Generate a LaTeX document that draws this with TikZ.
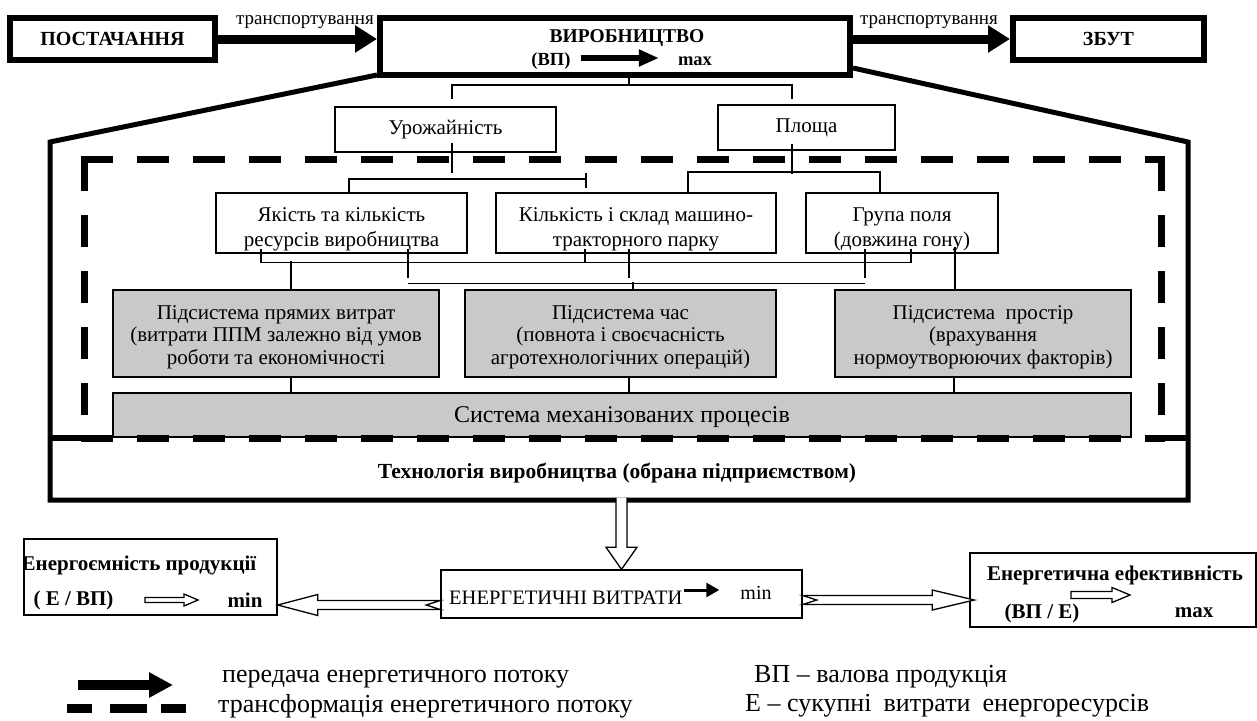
\documentclass[tikz,border=0pt]{standalone}
\usepackage{fontspec}
\setmainfont{Liberation Serif}
\usetikzlibrary{arrows.meta,calc}
\definecolor{boxgray}{RGB}{200,201,203}
\newcommand\fs[1]{\fontsize{#1}{#1}\selectfont}
% hollow arrows: tail, tip, shaft half, head half, head length, notch
\newcommand\HArrR[6]{\filldraw[hollow] let \p1=(#1), \p2=(#2) in
  (\x2,\y1) -- (\x2-#5,\y1+#4) -- (\x2-#5,\y1+#3) -- (\x1,\y1+#3) -- (\x1+#6,\y1)
  -- (\x1,\y1-#3) -- (\x2-#5,\y1-#3) -- (\x2-#5,\y1-#4) -- cycle;}
\newcommand\HArrL[6]{\filldraw[hollow] let \p1=(#1), \p2=(#2) in
  (\x2,\y1) -- (\x2+#5,\y1+#4) -- (\x2+#5,\y1+#3) -- (\x1,\y1+#3) -- (\x1-#6,\y1)
  -- (\x1,\y1-#3) -- (\x2+#5,\y1-#3) -- (\x2+#5,\y1-#4) -- cycle;}
\newcommand\HArrD[5]{\fill[white] let \p1=(#1), \p2=(#2) in
  (\x1,\y2) -- (\x1+#4,\y2+#5) -- (\x1+#3,\y2+#5) -- (\x1+#3,\y1) -- (\x1-#3,\y1)
  -- (\x1-#3,\y2+#5) -- (\x1-#4,\y2+#5) -- cycle;
  \draw[hollowline] let \p1=(#1), \p2=(#2) in
  (\x1+#3,\y1) -- (\x1+#3,\y2+#5) -- (\x1+#4,\y2+#5) -- (\x1,\y2) -- (\x1-#4,\y2+#5)
  -- (\x1-#3,\y2+#5) -- (\x1-#3,\y1);}
\begin{document}
\begin{tikzpicture}[x=1pt,y=-1pt,
  thickbox/.style={draw,line width=6pt,inner sep=0pt},
  thinbox/.style={draw,line width=1.4pt,inner sep=0pt,font=\fs{21}},
  greybox/.style={thinbox,fill=boxgray},
  txt/.style={inner sep=0pt,align=center,font=\fs{21}},
  btxt/.style={inner sep=0pt,align=center,font=\fs{21}\bfseries},
  ltxt/.style={inner sep=0pt,anchor=west,font=\fs{21}},
  conn/.style={line width=1.2pt},
  house/.style={line width=5pt,line join=miter},
  dashedge/.style={line width=7pt,dash pattern=on 32pt off 24pt},
  flow/.style={line width=9pt,-{Triangle[length=22pt,width=26pt]}},
  hollow/.style={draw,fill=white,line width=1.3pt,line join=miter},
  hollowline/.style={line width=1.3pt,line join=miter},
]
\useasboundingbox (0,0) rectangle (1257,720);

% ---------- top row ----------
\node[thickbox,minimum width=205pt,minimum height=42pt] (post) at (112.5,39) {\fs{20}\bfseries ПОСТАЧАННЯ};
\node[thickbox,minimum width=470pt,minimum height=57pt] (vir) at (615,46.5) {};
\node[btxt,font=\fs{19.5}\bfseries] (virt) at (627,38) {ВИРОБНИЦТВО};
\node[btxt,font=\fs{18.5}\bfseries] (vp) at (551,61) {(ВП)};
\node[btxt,font=\fs{18.5}\bfseries] (vmax) at (695,61) {max};
\draw[line width=6pt,-{Triangle[length=20pt,width=16pt]}] ($(vp.east)+(10,-3)$) -- ($(vmax.west)+(-19,-3)$);
\node[thickbox,minimum width=191pt,minimum height=42pt] (zbut) at (1108.5,39) {\fs{20}\bfseries ЗБУТ};

\draw[flow] (post.east) -- (post.east -| vir.west);
\draw[flow] (vir.east |- zbut.west) -- (zbut.west);
\node[inner sep=0pt,font=\fs{19}] (tl1) at (305,22) {транспортування};
\node[inner sep=0pt,font=\fs{19}] (tl2) at (929,22) {транспортування};

% ---------- house outline ----------
\coordinate (hl) at (50,142);
\coordinate (hr) at (1188,142);
\coordinate (hbl) at (50,500);
\coordinate (hbr) at (1188,500);
\draw[house] ([yshift=3pt]vir.south west) -- (hl) -- (hbl) -- (hbr) -- (hr) -- ([yshift=10pt]vir.south east);

% ---------- boxes ----------
\node[thinbox,minimum width=221pt,minimum height=45pt] (uro) at (445.5,129.5) {Урожайність};
\node[thinbox,minimum width=177pt,minimum height=45pt] (plo) at (806.5,127.5) {Площа};

\node[thinbox,minimum width=251pt,minimum height=60pt] (yak) at (341.5,223) {};
\node[txt,font=\fontsize{21}{25}\selectfont] (yakt) at (341.5,229) {Якість та кількість\\ресурсів виробництва};
\node[thinbox,minimum width=280pt,minimum height=60pt] (kil) at (636,223) {};
\node[txt,font=\fontsize{21}{25}\selectfont] (kilt) at (636,229) {Кількість і склад машино-\\тракторного парку};
\node[thinbox,minimum width=192pt,minimum height=60pt] (gru) at (902,223) {};
\node[txt,font=\fontsize{21}{25}\selectfont] (grut) at (902,229) {Група поля\\(довжина гону)};

\node[greybox,minimum width=326pt,minimum height=87pt] (g1) at (276,333.5) {};
\node[txt,font=\fontsize{21}{22.5}\selectfont] (g1t) at (276,337) {Підсистема прямих витрат\\(витрати ППМ залежно від умов\\роботи та економічності};
\node[greybox,minimum width=311pt,minimum height=87pt] (g2) at (620.5,333.5) {};
\node[txt,font=\fontsize{21}{22.5}\selectfont] (g2t) at (620.5,337) {Підсистема час\\(повнота і своєчасність\\агротехнологічних операцій)};
\node[greybox,minimum width=296pt,minimum height=87pt] (g3) at (983,333.5) {};
\node[txt,font=\fontsize{21}{22.5}\selectfont] (g3t) at (983,337) {Підсистема\ \ простір\\(врахування\\нормоутворюючих факторів)};

\node[greybox,minimum width=1018pt,minimum height=44pt] (sys) at (622,415) {};
\node[txt,font=\fs{24}] (syst) at (622,417) {Система механізованих процесів};

\node[btxt,font=\fs{21.5}\bfseries] (tech) at (617,473) {Технологія виробництва (обрана підприємством)};

% ---------- connectors ----------
\coordinate (j0) at (629,85);
\draw[conn] (vir.south -| j0) -- (j0);
\draw[conn] ($(uro.north)+(6.5,-7)$) |- (j0) -| ($(plo.north)+(-14.5,-5)$);

\draw[conn] ($(uro.south)+(6.5,-10)$) -- ++(0,30);
\coordinate (j1) at (586,179);
\draw[conn] ($(yak.north)+(7.5,0)$) |- (j1);
\draw[conn] ($(j1)+(0,-6)$) -- ($(j1)+(0,9)$);

\draw[conn] ($(plo.south)+(-14.5,-7)$) -- ++(0,30);
\coordinate (j2) at (792,172);
\draw[conn] ($(kil.north)+(52,0)$) |- (j2) -| ($(gru.north)+(-22,0)$);

\draw[conn] ($(yak.south)+(-80.5,-5)$) -- ++(0,14) -- ($(gru.south)+(9,9)$) -- ($(gru.south)+(9,-5)$);
\draw[conn] ($(kil.south)+(-51,-5)$) -- ++(0,14);
\draw[conn] ($(yak.south)+(66.5,-5)$) -- ++(0,29);
\draw[conn] ($(kil.south)+(-7,-5)$) -- ++(0,29);
\draw[conn] ($(gru.south)+(-37,-5)$) -- ++(0,29);
\draw[conn] ($(yak.south)+(66.5,30)$) -- ($(gru.south)+(-37,30)$);
\draw[conn] ($(g2.north)+(12.5,-7)$) -- ($(g2.north)+(12.5,0)$);
\draw[conn] ($(g1.north)+(15,-28)$) -- ($(g1.north)+(15,0)$);
\draw[conn] ($(g3.north)+(-28,-42)$) -- ($(g3.north)+(-28,0)$);

\draw[conn] ($(g1.south)+(15,0)$) -- ++(0,16);
\draw[conn] ($(g2.south)+(8.5,0)$) -- ++(0,16);
\draw[conn] ($(g3.south)+(-29,0)$) -- ++(0,16);

% ---------- dashed rectangle ----------
\coordinate (dtl) at (84,159);
\coordinate (dtr) at (1161,159);
\coordinate (dbl) at (84,438);
\coordinate (dbr) at (1161,438);
\draw[dashedge] ([xshift=-3.5pt]dtl) -- ([xshift=3.5pt]dtr);
\draw[dashedge] (dtl) -- (dbl);
\draw[dashedge] (dtr) -- (dbr);
\draw[dashedge] ([xshift=-3.5pt]dbl) -- ([xshift=3.5pt]dbr);
\draw[line width=6pt] (hl |- dbl) -- (dbl);
\draw[line width=6pt] (dbr) -- (hr |- dbr);

% ---------- energy row ----------
\node[thinbox,minimum width=361pt,minimum height=48pt] (enb) at (621.5,594) {};
\node[inner sep=0pt,anchor=west,font=\fs{20.5}] (enbt) at (449,598) {ЕНЕРГЕТИЧНІ ВИТРАТИ};
\node[inner sep=0pt,font=\fs{20}] (enbm) at (756,593) {min};
\draw[line width=3pt,-{Triangle[length=13pt,width=14pt]}] ($(enbt.east)+(1,-8)$) -- ($(enbm.west)+(-21,-3)$);

\node[thinbox,minimum width=253pt,minimum height=76pt] (ene) at (150.5,577) {};
\begin{scope}
  \clip (ene.south west) rectangle (ene.north east);
  \node[btxt] (enet) at (139,565) {Енергоємність продукції};
\end{scope}
\node[btxt] (ev) at (73.5,600) {( Е / ВП)};
\node[btxt] (emin) at (245,600) {min};
\coordinate (e1a) at (145,600);
\coordinate (e1b) at (198,600);
\HArrR{e1a}{e1b}{2.5pt}{6pt}{14pt}{0pt}

\node[thinbox,minimum width=286pt,minimum height=74pt] (eef) at (1113,590) {};
\node[btxt] (eeft) at (1115,575) {Енергетична ефективність};
\node[btxt] (eefv) at (1042,613) {(ВП / Е)};
\node[btxt] (eefm) at (1194,613) {max};
\coordinate (e2a) at (1071,595);
\coordinate (e2b) at (1130,595);
\HArrR{e2a}{e2b}{3.5pt}{7.5pt}{18pt}{0pt}

% big hollow arrows
\coordinate (laT) at ($(enb.west)+(0,11)$);
\coordinate (laH) at (laT -| ene.east);
\HArrL{laT}{laH}{4.5pt}{10.5pt}{40pt}{14pt}
\coordinate (raT) at ($(enb.east)+(0,6)$);
\coordinate (raH) at ($(raT -| eef.west)+(5,0)$);
\HArrR{raT}{raH}{4.5pt}{10pt}{42pt}{14pt}
\coordinate (vaT) at ($(enb.north |- hbl)+(0,-2.5)$);
\HArrD{vaT}{enb.north}{5.5pt}{15.5pt}{22pt}

% ---------- legend ----------
\coordinate (lg1) at (78,685);
\coordinate (lg2) at (173,685);
\draw[line width=10pt,-{Triangle[length=24pt,width=24pt]}] (lg1) -- (lg2);
\draw[line width=9pt] (67,708) -- (92,708);
\draw[line width=9pt] (110,708) -- (147,708);
\draw[line width=9pt] (161,708) -- (186,708);
\node[ltxt,font=\fs{26}] (lt1) at (222,679) {передача енергетичного потоку};
\node[ltxt,font=\fs{26}] (lt2) at (218,706) {трансформація енергетичного потоку};
\node[ltxt,font=\fs{26}] (lt3) at (754,677) {ВП – валова продукція};
\node[ltxt,font=\fs{26}] (lt4) at (745,706) {Е – сукупні\hspace{12pt}витрати\hspace{12pt}енергоресурсів};
\end{tikzpicture}
\end{document}
